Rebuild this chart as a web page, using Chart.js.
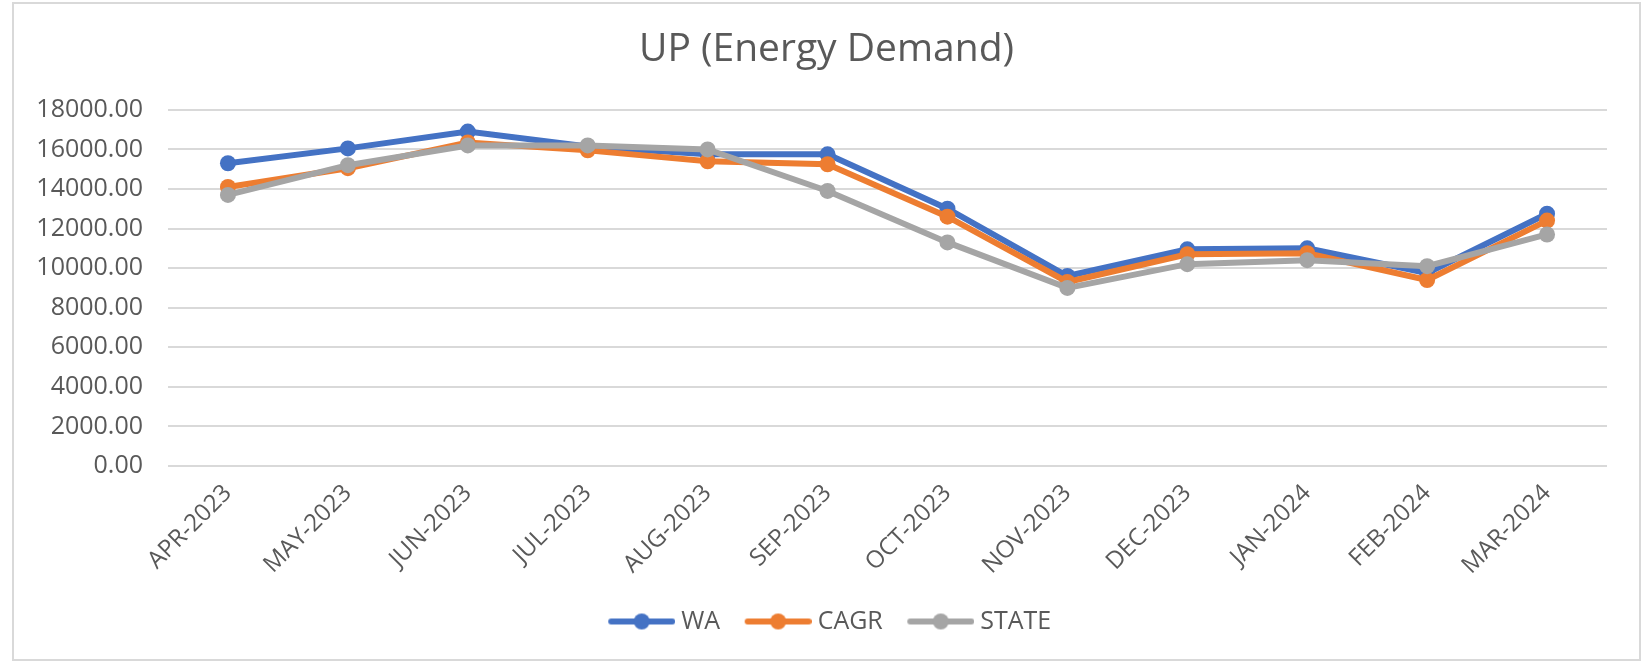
<!DOCTYPE html>
<html>
<head>
<meta charset="utf-8">
<script src="https://cdn.jsdelivr.net/npm/chart.js@4.4.1/dist/chart.umd.min.js"></script>
<style>
  html, body { margin: 0; padding: 0; background: #ffffff; }
  #wrap {
    position: absolute; left: 12px; top: 2px;
    width: 1625px; height: 655px;
    border: 2px solid #d9d9d9; background: #fff;
  }
  canvas { display: block; }
</style>
</head>
<body>
<div id="wrap"><canvas id="c" width="1625" height="655"></canvas></div>
<script>
const titleText = 'UP (Energy Demand)';
const categories = ['APR-2023','MAY-2023','JUN-2023','JUL-2023','AUG-2023','SEP-2023','OCT-2023','NOV-2023','DEC-2023','JAN-2024','FEB-2024','MAR-2024'];
const seriesNames = ['WA','CAGR','STATE'];
const waValues    = [15300, 16050, 16900, 16150, 15750, 15750, 13000, 9600, 10950, 11000, 9750, 12750];
const cagrValues  = [14100, 15050, 16350, 15950, 15400, 15250, 12600, 9300, 10700, 10750, 9400, 12400];
const stateValues = [13700, 15200, 16200, 16200, 16000, 13900, 11300, 9000, 10200, 10400, 10100, 11700];
const yMin = 0, yMax = 18000, yStep = 2000;

const colors = ['#4472C4', '#ED7D31', '#A5A5A5'];
const textColor = '#595959';
const fontFamily = '"Open Sans", "Noto Sans", sans-serif';

function legendIcon(color) {
  const c = document.createElement('canvas');
  c.width = 80; c.height = 20;
  const g = c.getContext('2d');
  g.strokeStyle = color; g.lineWidth = 6; g.lineCap = 'round';
  g.beginPath(); g.moveTo(16, 10); g.lineTo(77, 10); g.stroke();
  g.fillStyle = color;
  g.beginPath(); g.arc(46.5, 10, 8, 0, Math.PI * 2); g.fill();
  return c;
}
const icons = colors.map(legendIcon);

const allValues = [waValues, cagrValues, stateValues];
const datasets = seriesNames.map((name, i) => ({
  label: name,
  data: allValues[i],
  borderColor: colors[i],
  backgroundColor: colors[i],
  borderWidth: 6,
  pointRadius: 8,
  pointHoverRadius: 8,
  pointBorderWidth: 0,
  tension: 0,
  order: 3 - i
}));

const shiftBlocks = {
  id: 'shiftBlocks',
  afterLayout(chart) {
    if (chart.legend) { chart.legend.left += 16; chart.legend.right += 16; }
    if (chart.titleBlock) { chart.titleBlock.left += 16; chart.titleBlock.right += 16; }
  }
};

new Chart(document.getElementById('c'), {
  type: 'line',
  data: { labels: categories, datasets },
  plugins: [shiftBlocks],
  options: {
    responsive: false,
    animation: false,
    layout: { padding: { left: 0, right: 32, top: 0, bottom: 15 } },
    plugins: {
      title: {
        display: true, text: titleText, color: textColor,
        font: { family: fontFamily, size: 39, weight: 'normal' },
        padding: { top: 22, bottom: 37 }
      },
      legend: {
        position: 'bottom',
        labels: {
          color: textColor,
          font: { family: fontFamily, size: 25 },
          usePointStyle: true,
          pointStyleWidth: 67,
          padding: 18,
          generateLabels(chart) {
            return chart.data.datasets.map((ds, i) => ({
              text: ds.label,
              fillStyle: ds.borderColor,
              strokeStyle: ds.borderColor,
              fontColor: textColor,
              lineWidth: 0,
              pointStyle: icons[i],
              hidden: false,
              datasetIndex: i
            }));
          }
        }
      },
      tooltip: { enabled: false }
    },
    scales: {
      x: {
        offset: true,
        grid: { display: false, drawTicks: false },
        border: { display: false },
        ticks: {
          color: textColor, font: { family: fontFamily, size: 24 },
          maxRotation: 45, minRotation: 45, padding: 13, autoSkip: false
        },
        afterFit(scale) { scale.height = 125; }
      },
      y: {
        min: yMin, max: yMax,
        grid: { color: '#d9d9d9', lineWidth: 2, drawTicks: false },
        border: { display: false },
        ticks: {
          stepSize: yStep, color: textColor, font: { family: fontFamily, size: 25 },
          padding: 25,
          callback: (v) => Number(v).toFixed(2)
        },
        afterFit(scale) { scale.width = 154; }
      }
    }
  }
});
</script>
</body>
</html>
